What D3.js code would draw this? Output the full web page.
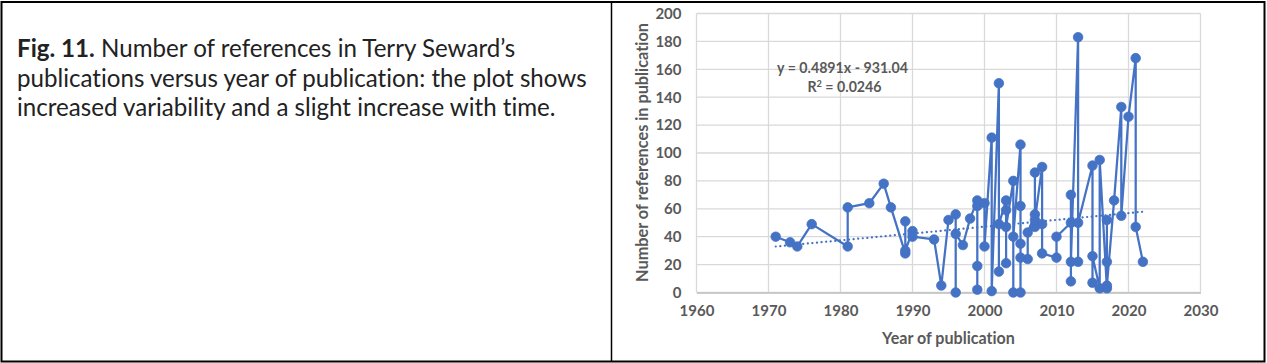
<!DOCTYPE html>
<html>
<head>
<meta charset="utf-8">
<script src="https://cdn.jsdelivr.net/npm/d3@7"></script>
<style>
  body { margin: 0; background: #fff; }
  text {
    font-family: Lato, "Liberation Sans", sans-serif;
    font-variant-ligatures: none;
    font-feature-settings: "liga" 0, "dlig" 0;
  }
</style>
</head>
<body>
<div id="graph"></div>
<script>
// points in the order the line joins them
var years = [1971, 1973, 1974, 1976, 1981, 1981, 1984, 1986, 1987, 1989, 1989, 1989,
  1990, 1990, 1993, 1994, 1995, 1996, 1996, 1996, 1997, 1998, 1999, 1999, 1999, 1999,
  2000, 2000, 2001, 2001, 2002, 2002, 2002, 2003, 2003, 2003, 2003, 2004, 2004, 2004,
  2005, 2005, 2005, 2005, 2005, 2006, 2006, 2007, 2007, 2007, 2007, 2008, 2008, 2008,
  2010, 2010, 2012, 2012, 2012, 2012, 2013, 2013, 2013, 2015, 2015, 2015, 2016, 2016,
  2017, 2017, 2017, 2017, 2018, 2019, 2019, 2020, 2021, 2021, 2022]
var refs = [40, 36, 33, 49, 33, 61, 64, 78, 61, 28, 51, 30,
  44, 40, 38, 5, 52, 56, 0, 42, 34, 53, 66, 2, 19, 62,
  64, 33, 111, 1, 150, 15, 49, 66, 21, 59, 47, 80, 0, 40,
  106, 0, 62, 35, 25, 24, 43, 56, 86, 47, 52, 90, 49, 28,
  25, 40, 50, 70, 8, 22, 183, 22, 50, 91, 7, 26, 3, 95,
  3, 52, 22, 5, 66, 133, 55, 126, 168, 47, 22]

var xTicks = [1960, 1970, 1980, 1990, 2000, 2010, 2020, 2030]
var yTicks = [0, 20, 40, 60, 80, 100, 120, 140, 160, 180, 200]

// linear trend as printed on the chart
var slope = 0.4891
var intercept = -931.04

var captionBold = 'Fig. 11.'
var captionLines = [
  ' Number of references in Terry Seward\u2019s',
  'publications versus year of publication: the plot shows',
  'increased variability and a slight increase with time.',
]

var blue = '#4472C4'
var grey = '#595959'

var svg = d3
  .select('#graph')
  .append('svg')
  .attr('width', 1267)
  .attr('height', 363)

// frame and divider
svg.append('rect')
  .attr('x', 1.5).attr('y', 2)
  .attr('width', 1263).attr('height', 359.5)
  .attr('fill', 'none').attr('stroke', '#000').attr('stroke-width', 2)
svg.append('line')
  .attr('x1', 611.5).attr('x2', 611.5).attr('y1', 2).attr('y2', 361.5)
  .attr('stroke', '#000').attr('stroke-width', 1.5)

// scale a text's font so that it spans the target width
function fitSize(sel, target) {
  sel.style('font-size', '20px')
  var w = sel.node().getComputedTextLength()
  var s = 20 * target / w
  sel.style('font-size', s + 'px')
  return s
}

var cap = svg.append('g').attr('fill', '#222')
var probe = cap.append('text').attr('x', 17).attr('y', 87).text(captionLines[1])
var capSize = fitSize(probe, 570)
probe.remove()

captionLines.forEach(function(s, i) {
  var t = cap.append('text')
    .attr('x', 17)
    .attr('y', 57 + i * 29.5)
    .style('font-size', capSize + 'px')
  if (i == 0) {
    t.append('tspan').attr('font-weight', 'bold').text(captionBold)
  }
  t.append('tspan').text(s)
})

// chart
var x = d3.scaleLinear().domain([1960, 2030]).range([696.5, 1200.5])
var y = d3.scaleLinear().domain([0, 200]).range([292.5, 13.5])

var g = svg.append('g')

g.selectAll('.hgrid')
  .data(yTicks)
  .enter()
  .append('line')
  .attr('x1', x(1960)).attr('x2', x(2030))
  .attr('y1', d => y(d)).attr('y2', d => y(d))
  .attr('stroke', '#d9d9d9').attr('stroke-width', 1.3)

g.selectAll('.vgrid')
  .data(xTicks)
  .enter()
  .append('line')
  .attr('x1', d => x(d)).attr('x2', d => x(d))
  .attr('y1', y(0)).attr('y2', y(200))
  .attr('stroke', '#d9d9d9').attr('stroke-width', 1.3)

var xAxis = g.append('g')
  .attr('transform', 'translate(0,' + y(0) + ')')
  .call(d3.axisBottom(x).tickValues(xTicks).tickFormat(d3.format('d')).tickSize(0).tickPadding(13))
xAxis.select('.domain').attr('stroke', '#bfbfbf').attr('stroke-width', 1.3)

var yAxis = g.append('g')
  .attr('transform', 'translate(' + (x(1960) - 1) + ',0)')
  .call(d3.axisLeft(y).tickValues(yTicks).tickSize(0).tickPadding(14))
yAxis.select('.domain').remove()

g.selectAll('.tick text')
  .attr('fill', grey)
  .style('font-family', 'Lato, sans-serif')
  .style('font-weight', 'bold')
  .style('font-size', '15px')

var yTitle = g.append('text')
  .attr('transform', 'translate(648,152.5) rotate(-90)')
  .attr('text-anchor', 'middle')
  .attr('fill', grey)
  .style('font-weight', 'bold')
  .text('Number of references in publication')
fitSize(yTitle, 259)

var xTitle = g.append('text')
  .attr('x', 948.5).attr('y', 343.5)
  .attr('text-anchor', 'middle')
  .attr('fill', grey)
  .style('font-weight', 'bold')
  .text('Year of publication')
fitSize(xTitle, 133)

// trend
var trendX = d3.extent(years)
g.append('line')
  .attr('x1', x(trendX[0])).attr('y1', y(slope * trendX[0] + intercept))
  .attr('x2', x(trendX[1])).attr('y2', y(slope * trendX[1] + intercept))
  .attr('stroke', blue)
  .attr('stroke-width', 2.2)
  .attr('stroke-linecap', 'round')
  .attr('stroke-dasharray', '0.1 4.5')

// series
var pts = years.map((d, i) => [d, refs[i]])
g.append('path')
  .datum(pts)
  .attr('d', d3.line().x(d => x(d[0])).y(d => y(d[1])))
  .attr('fill', 'none')
  .attr('stroke', blue)
  .attr('stroke-width', 2.25)
  .attr('stroke-linejoin', 'round')

g.selectAll('.dot')
  .data(pts)
  .enter()
  .append('circle')
  .attr('cx', d => x(d[0]))
  .attr('cy', d => y(d[1]))
  .attr('r', 4.8)
  .attr('fill', blue)
  .attr('stroke', blue)
  .attr('stroke-width', 0.75)

// equation label
var eq1 = g.append('text')
  .attr('x', 842.5).attr('y', 73)
  .attr('text-anchor', 'middle')
  .attr('fill', grey)
  .style('font-weight', 'bold')
  .text('y = ' + slope + 'x - ' + Math.abs(intercept))
var eqSize = fitSize(eq1, 131)

var r2 = g.append('text')
  .attr('x', 844.5).attr('y', 92)
  .attr('text-anchor', 'middle')
  .attr('fill', grey)
  .style('font-weight', 'bold')
  .style('font-size', eqSize + 'px')
r2.append('tspan').text('R')
r2.append('tspan').attr('dy', -5).style('font-size', (eqSize * 0.65) + 'px').text('2')
r2.append('tspan').attr('dy', 5).text(' = 0.0246')
</script>
</body>
</html>
